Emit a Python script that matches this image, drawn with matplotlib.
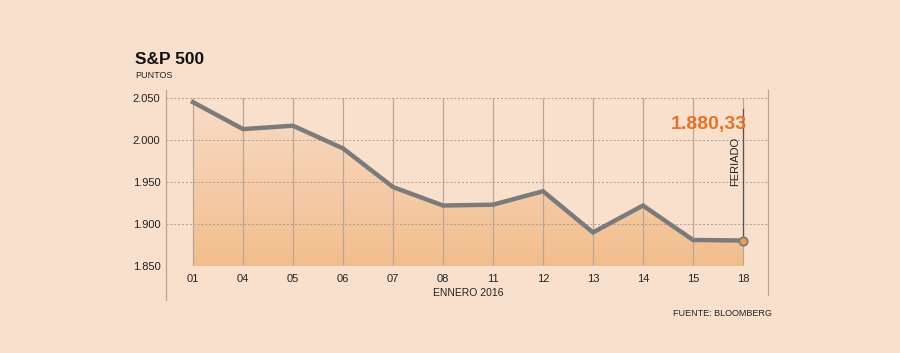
import numpy as np
import matplotlib.pyplot as plt
from matplotlib.patches import Polygon
from matplotlib.lines import Line2D
from matplotlib.colors import LinearSegmentedColormap

days = ["01", "04", "05", "06", "07", "08", "11", "12", "13", "14", "15", "18"]
close = [2045, 2013, 2017, 1990, 1944, 1922, 1923, 1939, 1890, 1922, 1881, 1880.33]
yticks = [1850, 1900, 1950, 2000, 2050]
ylabels = ["1.850", "1.900", "1.950", "2.000", "2.050"]

bg = "#F9E0CD"
W, H = 900, 353
plt.rcParams['font.family'] = ['Liberation Sans', 'DejaVu Sans']

fig = plt.figure(figsize=(9, 3.53), dpi=100, facecolor=bg)
# axes in pixel coords
x0, x1, ytop, ybot = 166, 768, 98, 266
ax = fig.add_axes([x0 / W, 1 - ybot / H, (x1 - x0) / W, (ybot - ytop) / H])
ax.set_facecolor("none")
x = np.arange(len(days))
for s in ax.spines.values():
    s.set_visible(False)

# gradient fill under line
verts = [(x[0], 1850)] + list(zip(x, close)) + [(x[-1], 1850)]
poly = Polygon(verts, closed=True, facecolor="none", edgecolor="none")
ax.add_patch(poly)
grad = np.linspace(0, 1, 256).reshape(-1, 1)
cmap = LinearSegmentedColormap.from_list("g", ["#F2BD8C", "#F8DCC7"])
im = ax.imshow(grad, extent=[x[0], x[-1], 1850, 2050], aspect="auto",
               cmap=cmap, origin="lower", zorder=1)
im.set_clip_path(poly)
ax.set_xlim(-0.54, 11.5)
ax.set_ylim(1850, 2050)

# grid
for yv in yticks:
    ax.axhline(yv, color="#B09A8C", lw=0.7, ls=(0, (2, 2)), zorder=2)
for xv in x:
    ax.plot([xv, xv], [1850, 2050], color="#BCA594", lw=0.9, zorder=2)

ax.plot(x, close, color="#7B7B7B", lw=3.2, solid_joinstyle="miter", zorder=4)
ax.plot(x[-1], close[-1], "o", ms=6, mfc="#E8A050", mec="#7B7B7B", mew=1.3, zorder=5)

ax.set_yticks(yticks)
ax.set_yticklabels(ylabels)
ax.set_xticks(x)
ax.set_xticklabels(days)
ax.tick_params(length=0, labelsize=8, colors="#222222")
ax.tick_params(axis="y", pad=4)
ax.tick_params(axis="x", pad=6)

# frame lines outside
fig.add_artist(Line2D([x0 / W, x0 / W], [1 - 90 / H, 1 - 300 / H], color="#BCA594", lw=0.9))
fig.add_artist(Line2D([x1 / W, x1 / W], [1 - 90 / H, 1 - 295 / H], color="#BCA594", lw=0.9))

# annotation
ax.plot([x[-1], x[-1]], [close[-1], 2037], color="#555555", lw=0.9, zorder=3)
ax.text(x[-1] - 0.16, 1975, "FERIADO", rotation=90, ha="center", va="center",
        fontsize=8, color="#222222")
fig.text(709 / W, 1 - 125 / H, "1.880,33", ha="center", va="center",
         fontsize=14, fontweight="bold", color="#E2732A")

fig.text(135 / W, 1 - 60 / H, "S&P 500", ha="left", va="center",
         fontsize=12.5, fontweight="bold", color="#111111")
fig.text(135 / W, 1 - 75 / H, "PUNTOS", ha="left", va="center",
         fontsize=6.5, color="#222222")
fig.text(468 / W, 1 - 293 / H, "ENNERO 2016", ha="center", va="center",
         fontsize=7.5, color="#222222")
fig.text(772 / W, 1 - 313 / H, "FUENTE: BLOOMBERG", ha="right", va="center",
         fontsize=6.5, color="#222222")

fig.savefig("out.png", dpi=100, facecolor=bg)
